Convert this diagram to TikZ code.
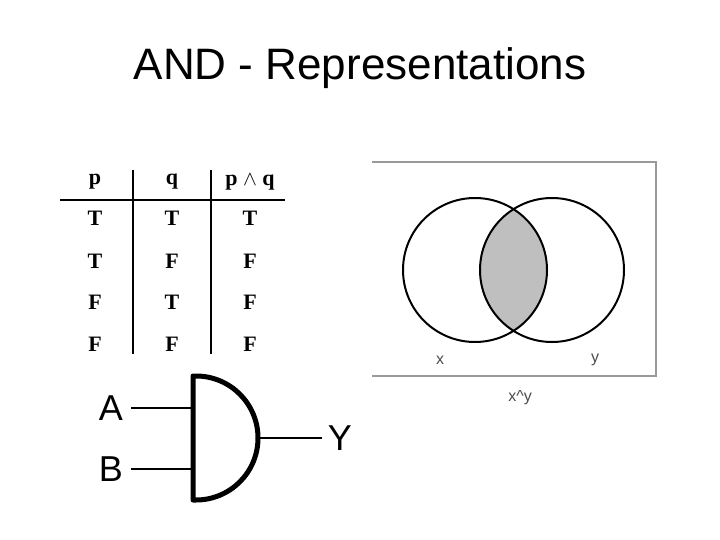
\documentclass[tikz,border=0pt]{standalone}
\usepackage{fontspec}
\setmainfont{Liberation Sans}
\newfontfamily\tabfont{Liberation Serif}
\begin{document}
\begin{tikzpicture}[x=1pt, y=-1pt]
    \tikzstyle{cell} = [font=\tabfont\bfseries\fontsize{22}{22}\selectfont, inner sep=0pt]
    \tikzstyle{lbl} = [font=\fontsize{16}{16}\selectfont, text=black!70, inner sep=0pt]
    \tikzstyle{pin} = [font=\fontsize{36}{36}\selectfont, inner sep=0pt]
    \useasboundingbox (0,0) rectangle (720,540);

    \node (title) at (360,68) [font=\fontsize{44}{44}\selectfont] {AND - Representations};

    % truth table
    \node (hp) at (95,182) [cell] {p};
    \node (hq) at (172,182) [cell] {q};
    \node (hpq) at (250,182) [cell] {p $\wedge$ q};
    \node (a1) at (95,218) [cell] {T};  \node (b1) at (172,218) [cell] {T}; \node (c1) at (250,218) [cell] {T};
    \node (a2) at (95,261) [cell] {T};  \node (b2) at (172,261) [cell] {F}; \node (c2) at (250,261) [cell] {F};
    \node (a3) at (95,302) [cell] {F};  \node (b3) at (172,302) [cell] {T}; \node (c3) at (250,302) [cell] {F};
    \node (a4) at (95,344) [cell] {F};  \node (b4) at (172,344) [cell] {F}; \node (c4) at (250,344) [cell] {F};
    \draw [line width=1.4pt] (60,200) -- (285,200);
    \draw [line width=1.4pt] (133,170) -- (133,354);
    \draw [line width=1.4pt] (211,170) -- (211,354);

    % venn diagram
    \draw [black!40, line width=1.5pt] (372,162) -- (656,162) -- (656,376) -- (372,376);
    \begin{scope}
        \clip (475,270) circle (72);
        \fill [black!25] (552,270) circle (72);
    \end{scope}
    \draw [line width=2pt] (475,270) circle (72);
    \draw [line width=2pt] (552,270) circle (72);
    \node (x) at (440,360) [lbl] {x};
    \node (y) at (595,360) [lbl] {y};
    \node (xy) at (520,398) [lbl] {x\textasciicircum y};

    % gate
    \node (A) at (111,408) [pin] {A};
    \node (B) at (111,469) [pin] {B};
    \node (Y) at (340,438) [pin] {Y};
    \coordinate (ia) at (193,408);
    \coordinate (ib) at (193,469);
    \coordinate (out) at (258,438);
    \draw [line width=5pt, line join=round] (193,376) -- (196,376) arc (-90:90:62) -- (193,500) -- cycle;
    \draw [line width=2.2pt] ([xshift=8pt]A.east) -- (ia);
    \draw [line width=2.2pt] ([xshift=8pt]B.east) -- (ib);
    \draw [line width=2.2pt] (out) -- ([xshift=-6pt]Y.west);
\end{tikzpicture}
\end{document}
